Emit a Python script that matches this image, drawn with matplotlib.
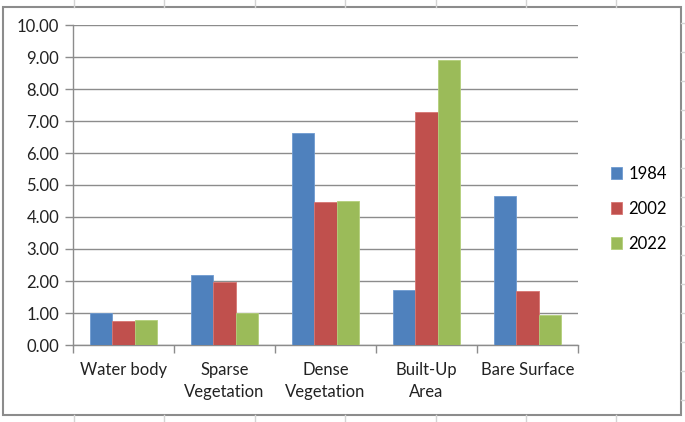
import numpy as np
import matplotlib.pyplot as plt
from matplotlib.patches import Rectangle
from matplotlib.lines import Line2D

categories = ['Water body', 'Sparse\nVegetation', 'Dense\nVegetation', 'Built-Up\nArea', 'Bare Surface']
years = ['1984', '2002', '2022']
v1984 = [1.00, 2.19, 6.63, 1.72, 4.65]
v2002 = [0.75, 1.97, 4.47, 7.28, 1.70]
v2022 = [0.78, 1.00, 4.50, 8.91, 0.95]
colors = ['#4F81BD', '#C0504D', '#9BBB59']
edges = ['#6E9AD0', '#D77572', '#B3CF7A']

plt.rcParams['font.family'] = ['Lato', 'DejaVu Sans']

fig = plt.figure(figsize=(6.85, 4.22), dpi=100)

# faint worksheet cell lines behind the chart object
for xc in [74, 164, 255, 345, 436, 526, 616]:
    for y0, y1 in [(0, 7), (415, 422)]:
        fig.add_artist(Line2D([xc / 685, xc / 685], [1 - y0 / 422, 1 - y1 / 422],
                              transform=fig.transFigure, color='#D4D4D4', linewidth=1))
for yc in np.arange(23, 415, 29):
    fig.add_artist(Line2D([681 / 685, 1], [1 - yc / 422, 1 - yc / 422],
                          transform=fig.transFigure, color='#D4D4D4', linewidth=1))

ax = fig.add_axes([73 / 685, 1 - 345 / 422, 505 / 685, 320 / 422])

x = np.arange(len(categories))
w = 0.218
for i, vals in enumerate([v1984, v2002, v2022]):
    ax.bar(x + (i - 1) * w, vals, w, color=colors[i], edgecolor=edges[i],
           linewidth=0.6, label=years[i], zorder=3)

ax.set_xlim(-0.5, len(categories) - 0.5)
ax.set_ylim(0, 10)
ax.set_yticks(np.arange(0, 11, 1))
ax.set_yticklabels([f'{v:.2f}' for v in np.arange(0, 11, 1)], fontsize=12, color='#222222')
ax.yaxis.grid(True, color='#8C8C8C', linewidth=1.0, zorder=0)

ax.set_xticks(x)
ax.set_xticklabels(categories, fontsize=12, color='#222222', linespacing=1.45)
ax.set_xticks(np.arange(-0.5, len(categories), 1), minor=True)
ax.tick_params(axis='x', which='major', length=0, pad=12)
ax.tick_params(axis='x', which='minor', length=6, color='#8C8C8C', width=1)
ax.tick_params(axis='y', length=6, color='#8C8C8C', width=1, pad=4)

for s in ['top', 'right']:
    ax.spines[s].set_visible(False)
for s in ['left', 'bottom']:
    ax.spines[s].set_color('#8C8C8C')
    ax.spines[s].set_linewidth(1.0)

leg = ax.legend(loc='center left', bbox_to_anchor=(1.035, 0.425), frameon=False,
                fontsize=12, handlelength=0.7, handleheight=0.7, handletextpad=0.35,
                labelspacing=1.15)

fig.patches.append(Rectangle((3 / 685, 7 / 422), 678 / 685, 408 / 422, transform=fig.transFigure,
                             fill=False, edgecolor='#8C8C8C', linewidth=1.5))

fig.savefig('out.png', dpi=100)
